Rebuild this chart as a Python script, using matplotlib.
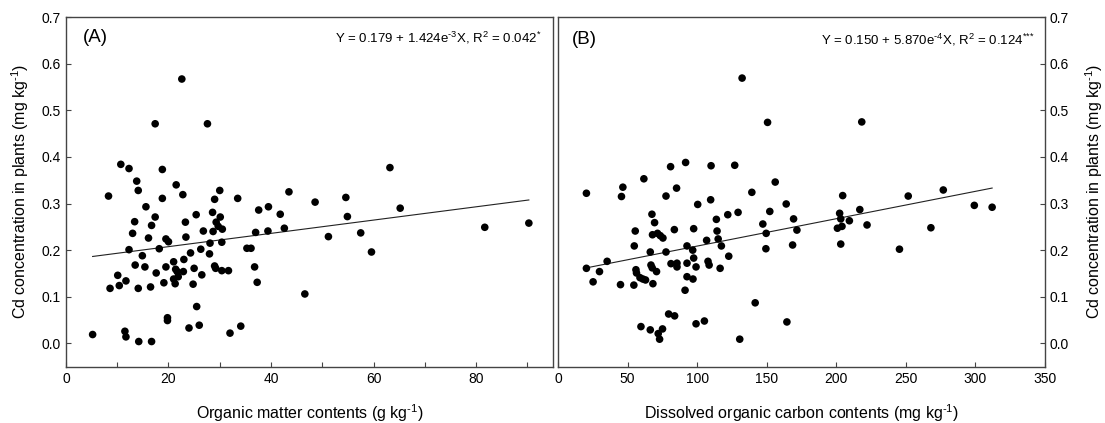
#!/usr/bin/env python
# -*- coding: utf-8 -*-
"""
Cd concentration in plants vs. organic matter (A) and DOC (B).
Output: out.png
"""

import numpy as np
import matplotlib
matplotlib.use("Agg")
import matplotlib.pyplot as plt

# =========================
# 1. Data
# =========================
om_x = [22.6, 17.4, 27.6, 10.7, 12.3, 18.8, 13.8, 21.5, 14.1, 8.3, 22.8, 30.0, 43.5, 63.2,
        18.8, 29.0, 33.5,
        15.6, 37.6, 39.5, 17.4, 25.4, 28.6, 30.1, 41.8,
        13.4, 23.3, 29.3, 16.7, 29.7,
        13.0, 26.8, 28.7, 30.5, 42.6, 37.0, 39.4,
        16.1, 19.5, 20.0, 23.4, 28.1, 30.4,
        12.3, 18.2, 26.3, 28.0, 24.3, 35.3, 36.1,
        14.9, 23.0, 21.0, 13.5, 15.4, 19.5, 21.4, 25.0, 29.0, 29.2, 36.8,
        17.6, 21.7, 22.9, 30.4, 31.7,
        10.1, 21.9, 26.5, 11.7, 19.1, 21.0, 21.3, 37.3,
        10.4, 8.6, 14.1, 16.5, 24.8,
        46.6, 25.5, 19.8, 19.8, 24.0, 26.0, 34.1, 32.0, 5.2, 11.5, 11.7, 14.2, 16.7,
        48.6, 54.6, 54.9, 65.2, 51.2, 57.5, 81.7, 59.6, 90.3]
om_y = [0.567, 0.471, 0.471, 0.384, 0.375, 0.373, 0.348, 0.340, 0.328, 0.316, 0.319, 0.328, 0.325, 0.377,
        0.311, 0.309, 0.311,
        0.293, 0.286, 0.293, 0.271, 0.276, 0.281, 0.271, 0.277,
        0.261, 0.260, 0.260, 0.253, 0.251,
        0.236, 0.241, 0.240, 0.245, 0.247, 0.238, 0.241,
        0.226, 0.224, 0.218, 0.228, 0.215, 0.217,
        0.201, 0.203, 0.202, 0.192, 0.194, 0.204, 0.204,
        0.188, 0.180, 0.175, 0.168, 0.164, 0.164, 0.159, 0.161, 0.166, 0.161, 0.164,
        0.151, 0.154, 0.154, 0.156, 0.156,
        0.146, 0.143, 0.147, 0.134, 0.130, 0.138, 0.128, 0.131,
        0.124, 0.118, 0.118, 0.121, 0.127,
        0.106, 0.079, 0.055, 0.049, 0.033, 0.039, 0.037, 0.022, 0.019, 0.026, 0.014, 0.004, 0.004,
        0.303, 0.313, 0.272, 0.290, 0.229, 0.237, 0.249, 0.196, 0.258]

doc_x = [132.3, 150.6, 80.9, 91.7, 110.0, 127.0, 61.7, 156.1, 20.4, 46.6, 85.2, 139.3,
         218.3, 204.6, 251.7, 276.9,
         45.6, 77.6, 109.7, 100.4, 164.0,
         67.5, 122.0, 129.4, 152.2, 69.4, 113.8, 169.3, 147.2,
         55.5, 83.6, 97.5, 114.3, 149.6, 171.7,
         67.9, 71.5, 73.5, 75.4, 106.8, 115.1,
         54.8, 92.7, 117.4, 168.6, 149.4,
         66.3, 77.6, 96.8, 97.5, 122.7,
         35.3, 81.2, 85.5, 85.5, 92.7, 99.2, 107.8, 108.6, 116.5,
         66.8, 67.7, 70.8, 20.4, 29.8, 56.0, 56.4,
         58.9, 61.0, 62.9, 92.7, 97.0, 25.2, 44.9, 54.5, 68.2, 91.3,
         141.7, 79.5, 83.8, 99.2, 105.2, 164.5, 59.6, 66.3, 75.1, 72.0, 73.0, 130.6,
         202.4, 203.2, 200.8, 204.1, 203.2, 216.9, 209.4, 222.1, 245.4, 268.0, 299.2, 312.0]
doc_y = [0.569, 0.474, 0.379, 0.388, 0.381, 0.382, 0.353, 0.346, 0.322, 0.335, 0.333, 0.324,
         0.475, 0.317, 0.316, 0.329,
         0.315, 0.316, 0.308, 0.298, 0.299,
         0.277, 0.276, 0.281, 0.283, 0.259, 0.266, 0.267, 0.256,
         0.241, 0.244, 0.246, 0.241, 0.236, 0.243,
         0.233, 0.236, 0.231, 0.226, 0.221, 0.224,
         0.209, 0.209, 0.209, 0.211, 0.203,
         0.196, 0.196, 0.200, 0.183, 0.187,
         0.176, 0.171, 0.172, 0.164, 0.172, 0.164, 0.176, 0.168, 0.161,
         0.168, 0.162, 0.154, 0.161, 0.154, 0.158, 0.151,
         0.141, 0.138, 0.136, 0.143, 0.138, 0.132, 0.126, 0.125, 0.128, 0.114,
         0.087, 0.063, 0.059, 0.042, 0.048, 0.046, 0.036, 0.029, 0.031, 0.021, 0.009, 0.009,
         0.279, 0.267, 0.247, 0.251, 0.213, 0.287, 0.263, 0.254, 0.202, 0.248, 0.296, 0.292]

# regression coefficients printed on the panels
fit_a = (0.179, 1.424e-3)
fit_b = (0.150, 5.870e-4)

# =========================
# 2. Style
# =========================
plt.rcParams["font.family"] = ["Liberation Sans", "DejaVu Sans"]
plt.rcParams["mathtext.fontset"] = "custom"
plt.rcParams["mathtext.rm"] = "Liberation Sans"
plt.rcParams["mathtext.it"] = "Liberation Sans:italic"
plt.rcParams["mathtext.bf"] = "Liberation Sans:bold"

SPINE = "#444444"
TICK_FS = 10
LABEL_FS = 11.5
HY = "\u2010"  # plain hyphen used in the superscripts of the original
YLABEL = r"Cd concentration in plants (mg kg$^{\text{" + HY + r"1}}$)"

fig = plt.figure(figsize=(11.05, 4.23), dpi=100)
ax_a = fig.add_axes([0.0597, 0.1331, 0.4407, 0.8267])
ax_b = fig.add_axes([0.5050, 0.1331, 0.4407, 0.8267])


def style_axis(ax):
    for sp in ax.spines.values():
        sp.set_color(SPINE)
        sp.set_linewidth(1.0)
    ax.tick_params(direction="in", length=3.5, width=0.8, color=SPINE,
                   labelsize=TICK_FS, which="both")
    ax.set_ylim(-0.05, 0.7)
    ax.set_yticks(np.arange(0, 0.71, 0.1))
    ax.set_yticklabels([f"{v:.1f}" for v in np.arange(0, 0.71, 0.1)])


def draw_panel(ax, x, y, fit, xmax):
    ax.scatter(x, y, s=30, color="black", edgecolors="none", zorder=3)
    xx = np.array([min(x), max(x)])
    ax.plot(xx, fit[0] + fit[1] * xx, color="#222222", linewidth=0.8, zorder=2)
    ax.set_xlim(0, xmax)


# =========================
# 3. Panel A
# =========================
draw_panel(ax_a, om_x, om_y, fit_a, 95)
style_axis(ax_a)
ax_a.set_xticks([0, 20, 40, 60, 80])
ax_a.set_xticks([10, 30, 50, 70, 90], minor=True)
ax_a.tick_params(axis="x", which="minor", labelbottom=False)
ax_a.set_xlabel(r"Organic matter contents (g kg$^{\text{" + HY + r"1}}$)",
                fontsize=LABEL_FS, labelpad=12)
ax_a.set_ylabel(YLABEL, fontsize=LABEL_FS, labelpad=8)
ax_a.text(0.035, 0.94, "(A)", transform=ax_a.transAxes, fontsize=13.5, va="center", ha="left")
ax_a.text(0.976, 0.94,
          r"Y = 0.179 + 1.424e$^{\text{" + HY + r"3}}$X, R$^{\text{2}}$ = 0.042$^{\text{*}}$",
          transform=ax_a.transAxes, fontsize=9.5, va="center", ha="right")

# =========================
# 4. Panel B
# =========================
draw_panel(ax_b, doc_x, doc_y, fit_b, 350)
style_axis(ax_b)
ax_b.set_xticks(np.arange(0, 351, 50))
ax_b.yaxis.tick_right()
ax_b.yaxis.set_label_position("right")
ax_b.set_xlabel(r"Dissolved organic carbon contents (mg kg$^{\text{" + HY + r"1}}$)",
                fontsize=LABEL_FS, labelpad=12)
ax_b.set_ylabel(YLABEL, fontsize=LABEL_FS, labelpad=10)
ax_b.text(0.028, 0.935, "(B)", transform=ax_b.transAxes, fontsize=13.5, va="center", ha="left")
ax_b.text(0.979, 0.935,
          r"Y = 0.150 + 5.870e$^{\text{" + HY + r"4}}$X, R$^{\text{2}}$ = 0.124$^{\text{***}}$",
          transform=ax_b.transAxes, fontsize=9.5, va="center", ha="right")

fig.savefig("out.png", dpi=100)
plt.close(fig)
